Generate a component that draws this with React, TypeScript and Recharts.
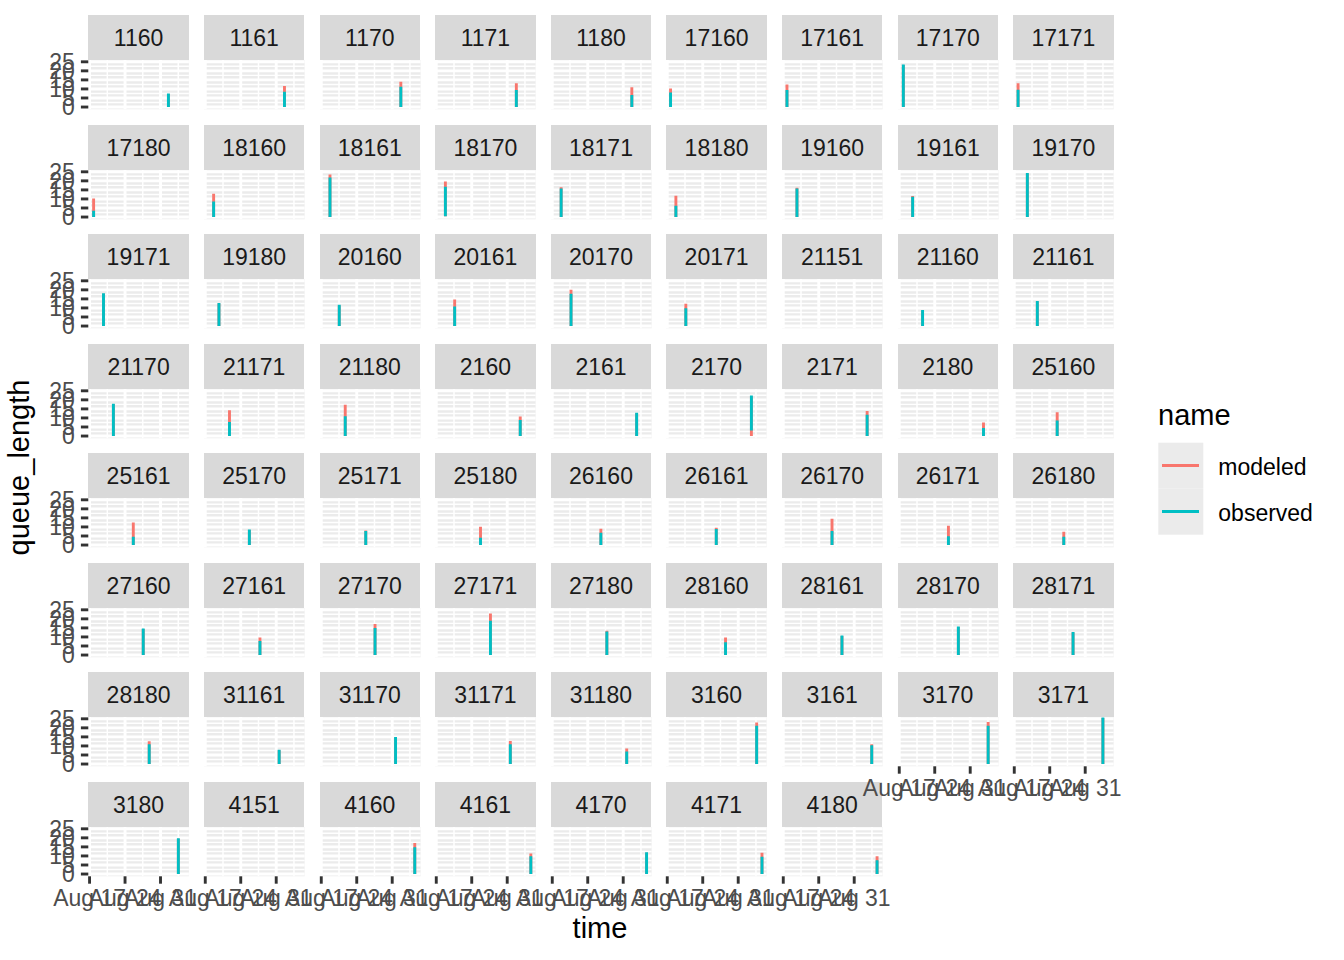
import React from 'react';
import { LineChart, Line, XAxis, YAxis, ReferenceLine, ReferenceArea } from 'recharts';

// facet labels, in panel order (9 per row)
const stations = [
  '1160', '1161', '1170', '1171', '1180', '17160', '17161', '17170', '17171',
  '17180', '18160', '18161', '18170', '18171', '18180', '19160', '19161', '19170',
  '19171', '19180', '20160', '20161', '20170', '20171', '21151', '21160', '21161',
  '21170', '21171', '21180', '2160', '2161', '2170', '2171', '2180', '25160',
  '25161', '25170', '25171', '25180', '26160', '26161', '26170', '26171', '26180',
  '27160', '27161', '27170', '27171', '27180', '28160', '28161', '28170', '28171',
  '28180', '31161', '31170', '31171', '31180', '3160', '3161', '3170', '3171',
  '3180', '4151', '4160', '4161', '4170', '4171', '4180',
];

// time of the run, as day of August (32 = Sep 1); null = no data
const runDay = [
  32.56, 32.63, 32.7, 32.8, 32.7, 17.65, 17.73, 17.8, 17.75,
  17.8, 18.65, 18.72, 18.8, 18.75, 18.7, 19.7, 19.64, 19.58,
  19.75, 19.7, 20.55, 20.63, 20.7, 20.66, null, 21.6, 21.55,
  21.7, 21.78, 21.73, 33.57, 33.65, 33.6, 33.55, 33.62, 25.47,
  25.63, 25.7, 25.78, 25.73, 26.59, 26.67, 26.62, 26.7, 26.77,
  27.59, 27.79, 27.61, 27.69, 27.77, 28.5, 28.58, 28.66, 28.6,
  28.77, 31.58, 31.66, 31.61, 31.69, 34.64, 34.46, 34.54, 34.49,
  34.52, null, 35.45, 35.66, 35.61, 35.69, 35.51,
];

const observedMax = [
  7.5, 8.5, 11.2, 9.4, 6.6, 8.1, 9.4, 23.5, 9.6,
  3.5, 8.6, 21.9, 16.7, 15.8, 6.25, 15.8, 11.2, 24.3,
  18.1, 12.8, 11.7, 10.8, 17.8, 9.9, null, 8.9, 13.9,
  17.9, 7.7, 11.0, 8.8, 12.9, 22.4, 11.8, 4.4, 8.6,
  4.6, 8.6, 7.7, 4.0, 6.8, 8.8, 7.7, 4.8, 4.6,
  14.7, 7.7, 14.9, 18.9, 13.0, 7.0, 10.8, 15.8, 12.7,
  11.0, 7.9, 15.0, 11.0, 6.9, 21.1, 10.4, 21.1, 25.7,
  19.8, null, 14.8, 9.9, 12.1, 9.5, 7.6,
];

const modeledMax = [
  7.2, 11.6, 14.0, 13.2, 11.0, 10.3, 12.5, 23.2, 13.1,
  10.3, 12.9, 23.5, 19.7, 16.5, 11.8, 16.2, 11.6, 24.0,
  17.8, 12.5, 11.4, 14.6, 20.0, 12.3, null, 8.6, 13.6,
  17.6, 14.2, 17.3, 10.8, 12.6, 22.0, 13.8, 7.5, 13.1,
  12.5, 8.3, 8.1, 10.1, 9.0, 9.6, 14.5, 10.7, 7.4,
  14.4, 9.7, 17.1, 23.0, 13.4, 9.7, 10.5, 15.5, 12.4,
  12.6, 7.6, 14.7, 12.8, 8.6, 22.9, 11.0, 23.3, 25.4,
  19.5, null, 17.2, 11.3, 11.8, 11.7, 9.9,
];

// lower ends of the queue traces (mostly 0)
const observedMin = stations.map((s) => (s === '2170' ? 3.1 : s === '18170' ? 0.5 : 0));
const modeledMin = stations.map((s) => (s === '18170' ? 0.5 : 0));

const seriesNames = ['modeled', 'observed'];
const seriesColors = ['#F8766D', '#00BFC4'];

const xTicks = [17, 24, 31];
const xMinor = [20.5, 27.5, 34.5];
const yTicks = [0, 5, 10, 15, 20, 25];
const yMinor = [2.5, 7.5, 12.5, 17.5, 22.5];
const xDomain: [number, number] = [16.75, 36.6];
const yDomain: [number, number] = [-1.25, 26];

const FONT = '"Liberation Sans", Arial, Helvetica, sans-serif';
const COLS = 9;
const PANEL_W = 100.6;
const PANEL_H = 49.3;
const STRIP_H = 45;
const PITCH_X = 115.6;
const PITCH_Y = 109.5;
const LEFT0 = 88.3;
const TOP0 = 15;
const Y_AXIS_W = 88.3;
const X_AXIS_H = 42;

const place = (i: number) => {
  const r = Math.floor(i / COLS);
  const c = i % COLS;
  return { r, c, left: LEFT0 + PITCH_X * c, top: TOP0 + PITCH_Y * r };
};

const Strip = ({ i }: { i: number }) => {
  const { left, top } = place(i);
  return (
    <div
      style={{
        position: 'absolute',
        left,
        top,
        width: PANEL_W,
        height: STRIP_H,
        background: '#D9D9D9',
        color: '#1A1A1A',
        fontSize: 23,
        lineHeight: `${STRIP_H}px`,
        paddingTop: 1,
        boxSizing: 'border-box',
        textAlign: 'center',
      }}
    >
      {stations[i]}
    </div>
  );
};

const Panel = ({ i }: { i: number }) => {
  const { c, left, top } = place(i);
  const hasY = c === 0;
  const hasX = i + COLS >= stations.length;
  const t = runDay[i];
  const data =
    t == null
      ? []
      : [
          { t, modeled: modeledMin[i], observed: observedMin[i] },
          { t, modeled: modeledMax[i], observed: observedMax[i] },
        ];
  const w = PANEL_W + (hasY ? Y_AXIS_W : 0);
  const h = PANEL_H + (hasX ? X_AXIS_H : 0);

  return (
    <div style={{ position: 'absolute', left: left - (hasY ? Y_AXIS_W : 0), top: top + STRIP_H }}>
      <LineChart width={w} height={h} data={data} margin={{ top: 0, right: 0, bottom: 0, left: 0 }}>
        <XAxis
          dataKey="t"
          type="number"
          domain={xDomain}
          ticks={xTicks}
          interval={0}
          allowDataOverflow
          hide={!hasX}
          height={X_AXIS_H}
          axisLine={false}
          tickSize={7.4}
          tickMargin={6}
          tickLine={{ stroke: '#333333', strokeWidth: 2.9 }}
          tick={{ fill: '#4D4D4D', fontSize: 23, fontFamily: FONT }}
          tickFormatter={(d: number) => `Aug ${d}`}
        />
        <YAxis
          type="number"
          domain={yDomain}
          ticks={yTicks}
          interval={0}
          allowDataOverflow
          hide={!hasY}
          width={Y_AXIS_W}
          axisLine={false}
          tickSize={7.4}
          tickMargin={6}
          tickLine={{ stroke: '#333333', strokeWidth: 2.9 }}
          tick={{ fill: '#4D4D4D', fontSize: 23, fontFamily: FONT }}
        />
        <ReferenceArea
          x1={xDomain[0]}
          x2={xDomain[1]}
          y1={yDomain[0]}
          y2={yDomain[1]}
          fill="#EBEBEB"
          fillOpacity={1}
          stroke="none"
        />
        {yMinor.map((v) => (
          <ReferenceLine key={`ym${v}`} y={v} stroke="#FFFFFF" strokeWidth={1.45} />
        ))}
        {xMinor.map((v) => (
          <ReferenceLine key={`xm${v}`} x={v} stroke="#FFFFFF" strokeWidth={1.45} />
        ))}
        {yTicks.map((v) => (
          <ReferenceLine key={`y${v}`} y={v} stroke="#FFFFFF" strokeWidth={2.9} />
        ))}
        {xTicks.map((v) => (
          <ReferenceLine key={`x${v}`} x={v} stroke="#FFFFFF" strokeWidth={2.9} />
        ))}
        {seriesNames.map((name, k) => (
          <Line
            key={name}
            dataKey={name}
            type="linear"
            stroke={seriesColors[k]}
            strokeWidth={2.9}
            dot={false}
            activeDot={false}
            isAnimationActive={false}
          />
        ))}
      </LineChart>
    </div>
  );
};

export default function App() {
  return (
    <div
      style={{
        position: 'absolute',
        left: 0,
        top: 0,
        width: 1344,
        height: 960,
        background: '#FFFFFF',
        fontFamily: FONT,
        overflow: 'hidden',
      }}
    >
      <style>{'.recharts-surface { overflow: visible; }'}</style>
      {/* strips first so the bottom axis labels of row 7 sit on top of row 8 strips */}
      {stations.map((_, i) => (
        <Strip key={`s${i}`} i={i} />
      ))}
      {stations.map((_, i) => (
        <Panel key={`p${i}`} i={i} />
      ))}
      <svg width={1344} height={960} style={{ position: 'absolute', left: 0, top: 0, pointerEvents: 'none' }}>
        <text x={600} y={938} textAnchor="middle" fontSize={29} fill="#000000" fontFamily={FONT}>
          time
        </text>
        <text
          x={29}
          y={467.5}
          textAnchor="middle"
          fontSize={29}
          fill="#000000"
          fontFamily={FONT}
          transform="rotate(-90 29 467.5)"
        >
          queue_length
        </text>
        <text x={1158} y={425} fontSize={29} fill="#000000" fontFamily={FONT}>
          name
        </text>
        {seriesNames.map((name, k) => (
          <g key={name}>
            <rect x={1158.3} y={442.7 + 46 * k} width={45} height={46} fill="#EBEBEB" />
            <line
              x1={1162}
              x2={1199}
              y1={465.5 + 46 * k}
              y2={465.5 + 46 * k}
              stroke={seriesColors[k]}
              strokeWidth={2.9}
            />
            <text x={1218.3} y={475 + 45.7 * k} fontSize={23} fill="#000000" fontFamily={FONT}>
              {name}
            </text>
          </g>
        ))}
      </svg>
    </div>
  );
}
